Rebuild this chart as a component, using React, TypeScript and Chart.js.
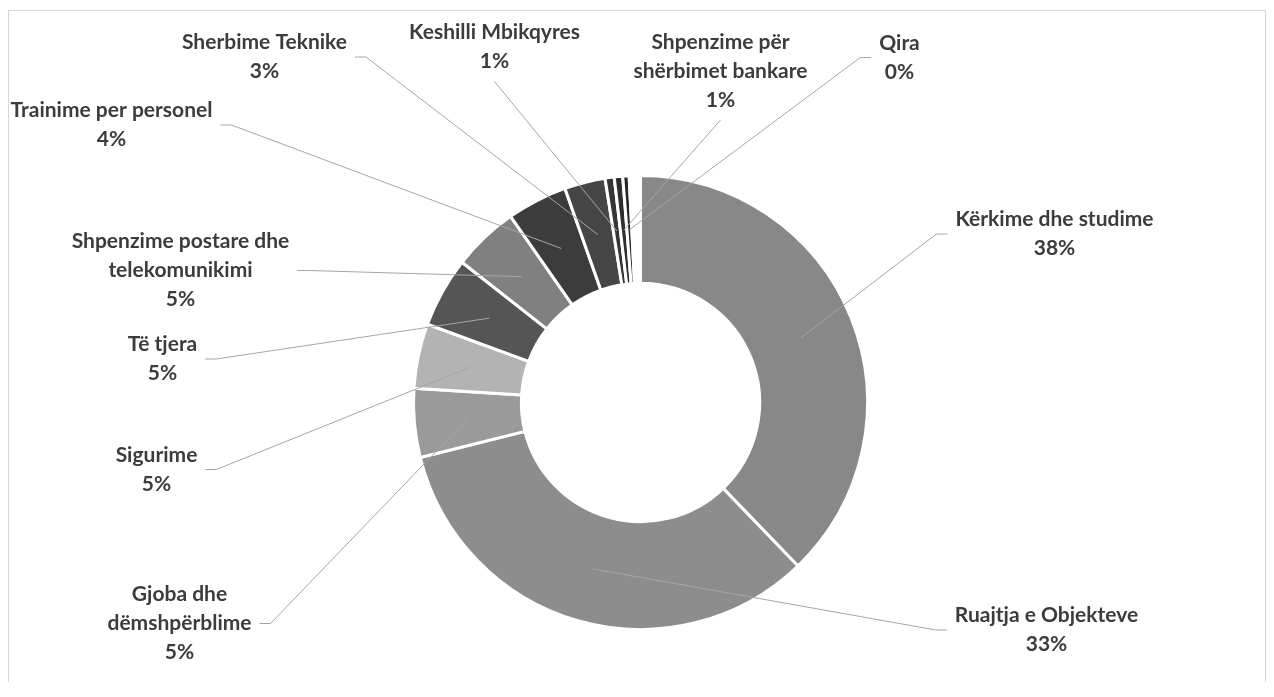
import React, { useEffect, useRef } from 'react';
import Chart from 'chart.js/auto';

// ---- data ----
const categories: string[][] = [
  ['Kërkime dhe studime'],
  ['Ruajtja e Objekteve'],
  ['Gjoba dhe', 'dëmshpërblime'],
  ['Sigurime'],
  ['Të tjera'],
  ['Shpenzime postare dhe', 'telekomunikimi'],
  ['Trainime per personel'],
  ['Sherbime Teknike'],
  ['Keshilli Mbikqyres'],
  ['Shpenzime për', 'shërbimet bankare'],
  ['Qira'],
  [], // unlabelled blank segment at the top
];
const shares = [37.8, 33.3, 4.9, 4.6, 5.0, 4.7, 4.3, 2.9, 0.65, 0.6, 0.45, 0.8];
const sliceColors = [
  '#888888', '#8d8d8d', '#9a9a9a', '#b3b3b3', '#555555', '#808080',
  '#3c3c3c', '#454545', '#363636', '#2e2e2e', '#262626', '#ffffff',
];

// ---- label layout (offset of label block centre from chart centre, leader side) ----
const labelLayout: [number, number, string][] = [
  [414, -168.5, 'l'],
  [406, 227.5, 'l'],
  [-461, 221, 'r'],
  [-484, 67, 'r'],
  [-478, -43.5, 'r'],
  [-460, -132, 'r'],
  [-529, -277.5, 'r'],
  [-376, -345.5, 'r'],
  [-146, -355.5, 'b'],
  [80, -331.5, 'b'],
  [259, -345, 'l'],
  [0, 0, ''],
];

const FONT = 'bold 21px Lato';
const LINE_H = 29;
const GAP = 8;
const STUB = 11;

const labelPlugin = {
  id: 'outerLabels',
  afterDatasetsDraw(chart: any) {
    const ctx = chart.ctx as CanvasRenderingContext2D;
    const meta = chart.getDatasetMeta(0);
    const total = shares.reduce((a, b) => a + b, 0);
    const cx = meta.data[0].x;
    const cy = meta.data[0].y;
    ctx.save();
    ctx.font = FONT;
    categories.forEach((lines, i) => {
      if (!lines.length) return;
      const arc = meta.data[i];
      const target = arc.tooltipPosition(false);
      const pct = Math.round((shares[i] / total) * 100) + '%';
      const all = [...lines, pct];
      const [dx, dy, side] = labelLayout[i];
      const bx = cx + dx;
      const by = cy + dy;
      const n = all.length;
      const w = Math.max(...all.map((t) => ctx.measureText(t).width));
      ctx.strokeStyle = '#a6a6a6';
      ctx.lineWidth = 1;
      ctx.beginPath();
      if (side === 'l') {
        const sx = bx - w / 2 - GAP;
        ctx.moveTo(sx, by);
        ctx.lineTo(sx - STUB, by);
        ctx.lineTo(target.x, target.y);
      } else if (side === 'r') {
        const sx = bx + w / 2 + GAP;
        ctx.moveTo(sx, by);
        ctx.lineTo(sx + STUB, by);
        ctx.lineTo(target.x, target.y);
      } else {
        const sy = by + ((n - 1) / 2) * LINE_H + 20;
        ctx.moveTo(bx, sy);
        ctx.lineTo(target.x, target.y);
      }
      ctx.stroke();
      ctx.fillStyle = '#3c3c3c';
      ctx.textAlign = 'center';
      ctx.textBaseline = 'middle';
      all.forEach((t, k) => ctx.fillText(t, bx, by + (k - (n - 1) / 2) * LINE_H));
    });
    ctx.restore();
  },
};

export default function App() {
  const ref = useRef<HTMLCanvasElement>(null);
  useEffect(() => {
    if (!ref.current) return;
    const chart = new Chart(ref.current, {
      type: 'doughnut',
      data: {
        labels: categories.map((c) => c.join(' ')),
        datasets: [
          {
            data: shares,
            backgroundColor: sliceColors,
            borderColor: '#ffffff',
            borderWidth: 3,
            hoverOffset: 0,
          },
        ],
      },
      options: {
        responsive: false,
        animation: false,
        cutout: '52.5%',
        layout: { padding: { left: 403, top: 163, right: 396, bottom: 52 } },
        plugins: {
          legend: { display: false },
          tooltip: { enabled: false },
        },
      },
      plugins: [labelPlugin],
    });
    const fonts = (document as any).fonts;
    if (fonts && fonts.load) {
      fonts.load(FONT).then(() => chart.draw()).catch(() => {});
    }
    return () => chart.destroy();
  }, []);
  return (
    <div
      style={{
        position: 'relative',
        top: 2,
        width: 1258,
        height: 674,
        border: '1px solid #d6d6d6',
        boxSizing: 'border-box',
        boxShadow: '0 2px 3px rgba(0,0,0,0.12)',
        background: '#fff',
      }}
    >
      <canvas ref={ref} width={1256} height={672} style={{ display: 'block', width: 1256, height: 672 }} />
    </div>
  );
}
